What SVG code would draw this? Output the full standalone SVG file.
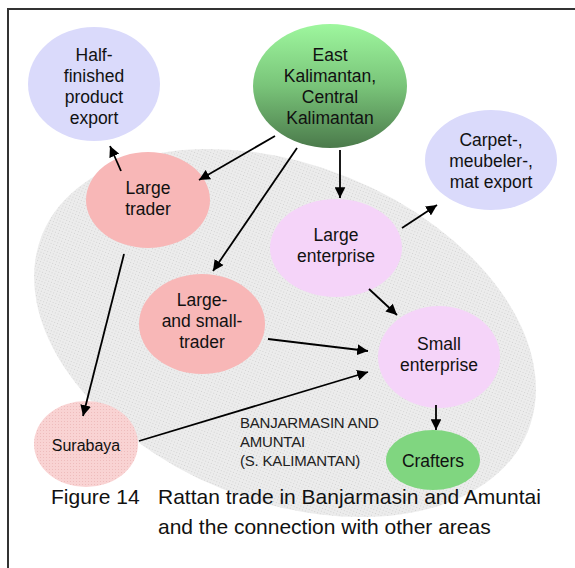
<svg xmlns="http://www.w3.org/2000/svg" width="575" height="568" viewBox="0 0 575 568">
  <defs>
    <style>
      .lbl { font-family: "Liberation Sans", Arial, sans-serif; font-size: 17.5px; fill: #111; text-anchor: middle; }
      .area { font-family: "Liberation Sans", Arial, sans-serif; font-size: 15px; fill: #222; letter-spacing: -0.2px; }
      .cap { font-family: "Liberation Sans", Arial, sans-serif; font-size: 21px; fill: #111; }
      .edge { stroke: #000; stroke-width: 1.8; fill: none; marker-end: url(#arrow); }
    </style>
    <pattern id="dots" width="3" height="3" patternUnits="userSpaceOnUse">
      <rect width="3" height="3" fill="#ececec"/>
      <rect x="1" y="1" width="1" height="1" fill="#d2d2d2"/>
    </pattern>
    <pattern id="pinkdots" width="3" height="3" patternUnits="userSpaceOnUse">
      <rect width="3" height="3" fill="#f9d3d3"/>
      <rect x="1" y="1" width="1" height="1" fill="#eebcbc"/>
    </pattern>
    <linearGradient id="green" x1="0" y1="0" x2="0" y2="1">
      <stop offset="0" stop-color="#9ef79e"/>
      <stop offset="0.5" stop-color="#79c479"/>
      <stop offset="1" stop-color="#4b7a4b"/>
    </linearGradient>
    <marker id="arrow" viewBox="0 0 10 10" refX="10" refY="5" markerWidth="6" markerHeight="6" markerUnits="strokeWidth" orient="auto">
      <path d="M0,0 L10,5 L0,10 Z" fill="#000"/>
    </marker>
  </defs>

  <rect width="575" height="568" fill="#fff"/>
  <!-- frame: top and left rules only -->
  <path d="M8,568 V9 H575" fill="none" stroke="#333" stroke-width="2"/>

  <!-- South Kalimantan region -->
  <g id="region">
    <ellipse cx="285" cy="333" rx="262" ry="168" transform="rotate(22 285 333)" fill="url(#dots)"/>
    <text class="area" x="240" y="428">BANJARMASIN AND</text>
    <text class="area" x="240" y="447">AMUNTAI</text>
    <text class="area" x="240" y="466">(S. KALIMANTAN)</text>
  </g>

  <g id="half-finished-export">
    <ellipse cx="94" cy="84" rx="66" ry="57" fill="#dadafb"/>
    <text class="lbl" x="94" y="61">Half-</text>
    <text class="lbl" x="94" y="82">finished</text>
    <text class="lbl" x="94" y="103">product</text>
    <text class="lbl" x="94" y="124">export</text>
  </g>

  <g id="east-central-kalimantan">
    <ellipse cx="330" cy="86" rx="77" ry="62" fill="url(#green)"/>
    <text class="lbl" x="330" y="61">East</text>
    <text class="lbl" x="330" y="82">Kalimantan,</text>
    <text class="lbl" x="330" y="103">Central</text>
    <text class="lbl" x="330" y="124">Kalimantan</text>
  </g>

  <g id="carpet-export">
    <ellipse cx="491" cy="160" rx="66" ry="50" fill="#dadafb"/>
    <text class="lbl" x="491" y="146">Carpet-,</text>
    <text class="lbl" x="491" y="167">meubeler-,</text>
    <text class="lbl" x="491" y="188">mat export</text>
  </g>

  <g id="large-trader">
    <ellipse cx="148" cy="200" rx="62" ry="48" fill="#f8b7b7"/>
    <text class="lbl" x="148" y="194">Large</text>
    <text class="lbl" x="148" y="215">trader</text>
  </g>

  <g id="large-enterprise">
    <ellipse cx="336" cy="248" rx="66" ry="49" fill="#f5d4f9"/>
    <text class="lbl" x="336" y="241">Large</text>
    <text class="lbl" x="336" y="262">enterprise</text>
  </g>

  <g id="large-small-trader">
    <ellipse cx="202" cy="324" rx="63" ry="50" fill="#f8b7b7"/>
    <text class="lbl" x="202" y="306">Large-</text>
    <text class="lbl" x="202" y="327">and small-</text>
    <text class="lbl" x="202" y="348">trader</text>
  </g>

  <g id="small-enterprise">
    <ellipse cx="439" cy="357" rx="61" ry="51" fill="#f5d4f9"/>
    <text class="lbl" x="439" y="350">Small</text>
    <text class="lbl" x="439" y="371">enterprise</text>
  </g>

  <g id="surabaya">
    <ellipse cx="86" cy="444" rx="52" ry="43" fill="url(#pinkdots)"/>
    <text class="lbl" x="86" y="451" style="font-size:16px">Surabaya</text>
  </g>

  <g id="crafters">
    <ellipse cx="433" cy="460" rx="47" ry="30" fill="#80d680"/>
    <text class="lbl" x="433" y="467">Crafters</text>
  </g>

  <g id="connectors">
    <line class="edge" x1="121" y1="171" x2="110" y2="146"/>
    <line class="edge" x1="275" y1="136" x2="199" y2="180"/>
    <line class="edge" x1="297" y1="148" x2="213" y2="271"/>
    <line class="edge" x1="340" y1="150" x2="340" y2="198"/>
    <line class="edge" x1="402" y1="228" x2="437" y2="205"/>
    <line class="edge" x1="369" y1="289" x2="397" y2="315"/>
    <line class="edge" x1="268" y1="339" x2="368" y2="351"/>
    <line class="edge" x1="139" y1="441" x2="368" y2="372"/>
    <line class="edge" x1="124" y1="254" x2="83" y2="416"/>
    <line class="edge" x1="436" y1="405" x2="436" y2="430"/>
  </g>

  <g id="caption">
    <text class="cap" x="51" y="504">Figure 14</text>
    <text class="cap" x="158" y="504">Rattan trade in Banjarmasin and Amuntai</text>
    <text class="cap" x="158" y="534">and the connection with other areas</text>
  </g>
</svg>
